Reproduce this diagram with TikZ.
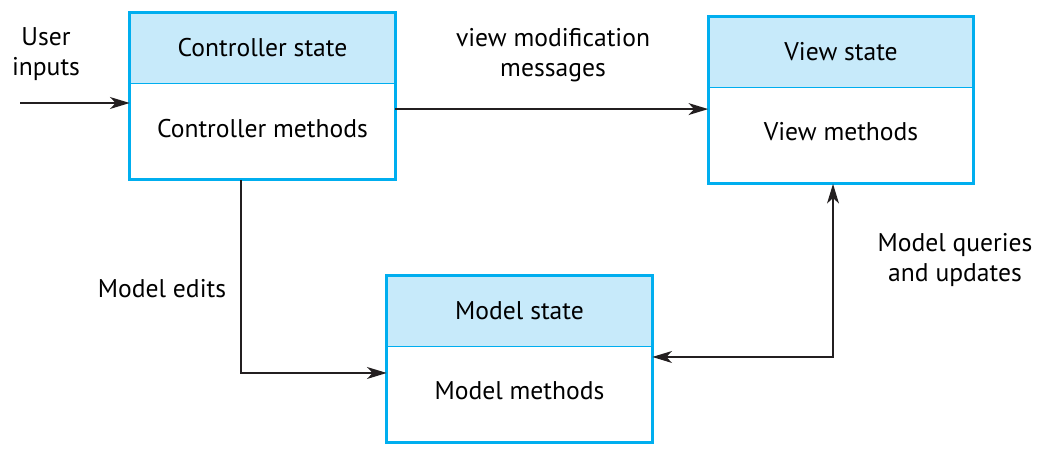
\documentclass[tikz,border=0pt]{standalone}
\usepackage{fontspec}
\setmainfont{PT Sans}
\usetikzlibrary{arrows.meta, positioning}

\definecolor{boxline}{RGB}{0,174,239}
\definecolor{boxfill}{RGB}{199,234,250}
\definecolor{flowline}{RGB}{35,31,32}

\begin{document}
\begin{tikzpicture}[x=0.025cm, y=-0.025cm, node distance=0pt,
		font=\fontsize{18.2}{21.3}\selectfont,
		state/.style = {fill=boxfill, minimum width=6.625cm, minimum height=1.75cm, inner sep=0pt},
		meth/.style = {minimum width=6.625cm, minimum height=2.4cm, inner sep=0pt},
		methtext/.style = {anchor=center, yshift=2.5pt},
		outline/.style = {draw=boxline, line width=2.1pt},
		divider/.style = {draw=boxline, line width=0.8pt},
		flow/.style = {draw=flowline, line width=0.9pt, -{Stealth[length=14pt, width=8.5pt, inset=4pt]}},
		flowboth/.style = {flow, {Stealth[length=14pt, width=8.5pt, inset=4pt]}-{Stealth[length=14pt, width=8.5pt, inset=4pt]}},
		lbl/.style = {align=center, inner sep=0pt}]
		\useasboundingbox (0,0) rectangle (1049,458);
		% boxes
		\node[state] (ctrlstate) at (262.5,48) {Controller state};
		\node[meth] (ctrlmeth) [below=of ctrlstate] {};
		\node[state] (viewstate) at (841,52) {View state};
		\node[meth] (viewmeth) [below=of viewstate] {};
		\node[state] (modelstate) at (519.5,311) {Model state};
		\node[meth] (modelmeth) [below=of modelstate] {};
		\node[methtext] (ctrltext) at (ctrlmeth) {Controller methods};
		\node[methtext] (viewtext) at (viewmeth) {View methods};
		\node[methtext] (modeltext) at (modelmeth) {Model methods};
		\draw[divider] (ctrlstate.south west) -- (ctrlstate.south east);
		\draw[divider] (viewstate.south west) -- (viewstate.south east);
		\draw[divider] (modelstate.south west) -- (modelstate.south east);
		\draw[outline] (ctrlstate.north west) rectangle (ctrlmeth.south east);
		\draw[outline] (viewstate.north west) rectangle (viewmeth.south east);
		\draw[outline] (modelstate.north west) rectangle (modelmeth.south east);
		% labels
		\node[lbl] (userlbl) at (46,54) {User\\inputs};
		\node[lbl] (msglbl) at (553,55) {view modification\\messages};
		\node[lbl] (editlbl) at (162,289) {Model edits};
		\node[lbl] (querylbl) at (955,260) {Model queries\\and updates};
		% connectors
		\coordinate (userin) at (20,103);
		\draw[flow] (userin) -- (userin -| ctrlmeth.west);
		\draw[flow] ([yshift=0.5625cm]ctrlmeth.east) -- ([yshift=0.5625cm]ctrlmeth.east -| viewmeth.west);
		\draw[flow] ([xshift=-0.54cm]ctrlmeth.south) |- ([yshift=0.54cm]modelmeth.west);
		\draw[flowboth] ([yshift=0.94cm]modelmeth.east) -| ([xshift=-0.2cm]viewmeth.south);
	\end{tikzpicture}
\end{document}
